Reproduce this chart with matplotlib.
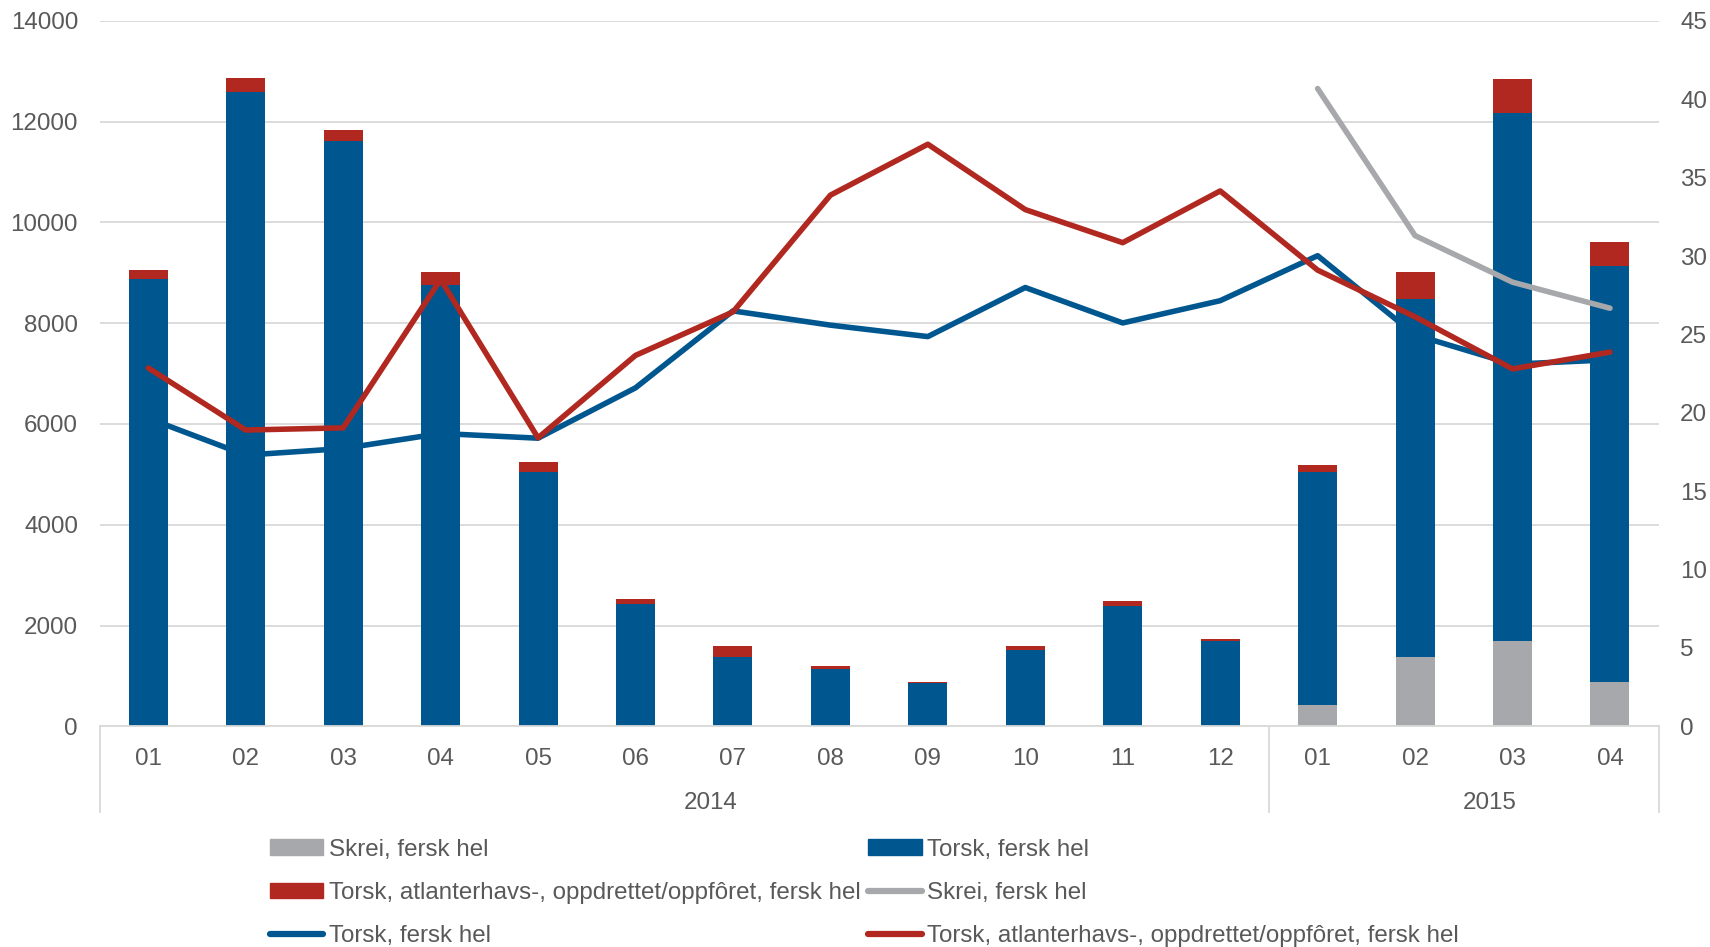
import numpy as np
import matplotlib.pyplot as plt
from matplotlib.lines import Line2D
from matplotlib.patches import Patch

# Categories: months 2014-01 .. 2015-04
months = ["01", "02", "03", "04", "05", "06", "07", "08", "09", "10", "11", "12",
          "01", "02", "03", "04"]
years = ["2014", "2015"]
year_counts = [12, 4]

# Stacked bars (left axis, tonn)
skrei_bar = [0, 0, 0, 0, 0, 0, 0, 0, 0, 0, 0, 0, 425, 1370, 1695, 885]
torsk_top = [8875, 12594, 11615, 8752, 5050, 2424, 1385, 1147, 866, 1515, 2380, 1688,
             5042, 8483, 12162, 9132]
total_top = [9063, 12871, 11832, 9016, 5236, 2532, 1601, 1190, 887, 1601, 2489, 1731,
             5194, 9024, 12854, 9608]

# Lines (right axis, NOK/kg)
torsk_line = [19.65, 17.3, 17.72, 18.68, 18.38, 21.59, 26.5, 25.59, 24.86, 27.99, 25.73, 27.15,
              30.02, 24.97, 23.1, 23.38]
atl_line = [22.86, 18.9, 19.04, 28.5, 18.4, 23.66, 26.43, 33.88, 37.13, 32.96, 30.85, 34.15,
            29.1, 26.12, 22.8, 23.87]
skrei_line = [np.nan] * 12 + [40.68, 31.3, 28.33, 26.67]

BLUE = "#00578F"
RED = "#B0281F"
GRAY = "#A7A8AB"
GRID = "#D9D9D9"
TEXT = "#595959"
FS = 17.4

plt.rcParams["font.family"] = ["Liberation Sans", "DejaVu Sans"]

fig = plt.figure(figsize=(17.1, 9.47), dpi=100)
ax = fig.add_axes([0.0582, 0.233, 0.9118, 0.745])
ax2 = ax.twinx()

x = np.arange(len(months))
skrei = np.array(skrei_bar, dtype=float)
torsk = np.array(torsk_top, dtype=float) - skrei
atl = np.array(total_top, dtype=float) - np.array(torsk_top, dtype=float)

w = 0.4
ax.bar(x, skrei, w, color=GRAY, zorder=2)
ax.bar(x, torsk, w, bottom=skrei, color=BLUE, zorder=2)
ax.bar(x, atl, w, bottom=skrei + torsk, color=RED, zorder=2)

lw = 4.0
ax2.plot(x, torsk_line, color=BLUE, lw=lw, solid_joinstyle="round", solid_capstyle="round")
ax2.plot(x, skrei_line, color=GRAY, lw=lw, solid_joinstyle="round", solid_capstyle="round")
ax2.plot(x, atl_line, color=RED, lw=lw, solid_joinstyle="round", solid_capstyle="round")

# Left axis
ax.set_ylim(0, 14000)
ax.set_yticks(np.arange(0, 14001, 2000))
ax.yaxis.grid(True, color=GRID, lw=1.3, zorder=0)
ax.set_axisbelow(True)
ax.set_xlim(-0.5, len(months) - 0.5)
ax.set_xticks(x)
ax.set_xticklabels(months)
ax.tick_params(axis="both", length=0, labelsize=FS, labelcolor=TEXT)
ax.tick_params(axis="y", pad=15.5)
ax.tick_params(axis="x", pad=15.5)

# Right axis
ax2.set_ylim(0, 45)
ax2.set_yticks(np.arange(0, 46, 5))
ax2.tick_params(axis="y", length=0, labelsize=FS, labelcolor=TEXT, pad=15.5)

for a in (ax, ax2):
    for side in ["top", "left", "right", "bottom"]:
        a.spines[side].set_visible(False)
ax.spines["bottom"].set_visible(True)
ax.spines["bottom"].set_color(GRID)
ax.spines["bottom"].set_linewidth(1.3)

# Multi-level category axis: year labels and separators
trans = ax.get_xaxis_transform()
start = -0.5
ax.plot([start, start], [0, -0.122], transform=trans, color=GRID, lw=1.3, clip_on=False)
for yr, n in zip(years, year_counts):
    end = start + n
    ax.plot([end, end], [0, -0.122], transform=trans, color=GRID, lw=1.3, clip_on=False)
    # the original places the group label a bit right of the group centre
    ax.text((start + end) / 2 + 0.27, -0.108, yr, transform=trans, ha="center", va="center",
            fontsize=FS, color=TEXT)
    start = end

# Legend (row-wise order in the reference, matplotlib fills column-wise)
handles = [
    Patch(color=GRAY),
    Patch(color=RED),
    Line2D([], [], color=BLUE, lw=4.5, solid_capstyle="round"),
    Patch(color=BLUE),
    Line2D([], [], color=GRAY, lw=4.5, solid_capstyle="round"),
    Line2D([], [], color=RED, lw=4.5, solid_capstyle="round"),
]
labels = [
    "Skrei, fersk hel",
    "Torsk, atlanterhavs-, oppdrettet/oppfôret, fersk hel",
    "Torsk, fersk hel",
    "Torsk, fersk hel",
    "Skrei, fersk hel",
    "Torsk, atlanterhavs-, oppdrettet/oppfôret, fersk hel",
]
leg = fig.legend(handles, labels, ncol=2, loc="upper left", bbox_to_anchor=(0.158, 0.1145),
                 frameon=False, fontsize=FS, handlelength=2.2, handleheight=0.6,
                 handletextpad=0.23, columnspacing=0.32, labelspacing=0.88, borderpad=0,
                 borderaxespad=0)
for t in leg.get_texts():
    t.set_color(TEXT)

plt.savefig("out.png", dpi=100)
